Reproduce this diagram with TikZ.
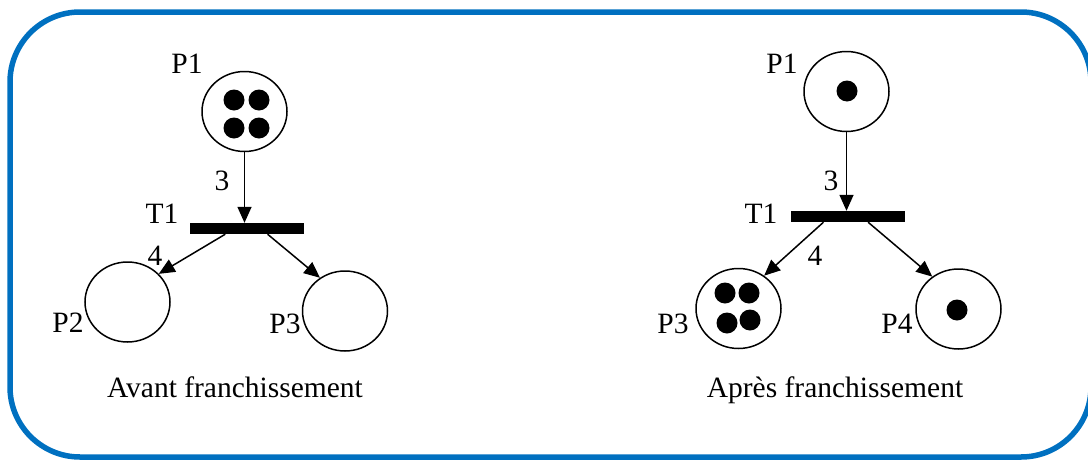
\documentclass[tikz,border=0pt]{standalone}
\usepackage{fontspec}
\setmainfont{Liberation Serif}
\usetikzlibrary{arrows.meta,shapes.geometric,calc}
\definecolor{frameblue}{RGB}{0,112,192}
\tikzset{
  place/.style={draw, ellipse, line width=1.5pt, minimum width=85pt, minimum height=80pt, inner sep=0pt},
  tokendot/.style={circle, fill=black, minimum size=21pt, inner sep=0pt},
  transbar/.style={rectangle, fill=black, minimum width=114pt, minimum height=11pt, inner sep=0pt},
  arc/.style={line width=1.5pt, -{Triangle[length=16pt,width=14pt]}},
  lbl/.style={anchor=base, inner sep=0pt, font=\fontsize{29.5}{35}\selectfont},
}
\begin{document}
\begin{tikzpicture}[x=1pt,y=-1pt]
\useasboundingbox (0,0) rectangle (1088,461);
% outer rounded frame
\draw[frameblue, line width=5.5pt, rounded corners=70pt] (10,12) rectangle (1091,457);

% ---- net before firing ----
\node[place] (p1a) at (244.5,111.5) {};
\node[tokendot] (p1a-t1) at (234,100) {};
\node[tokendot] (p1a-t2) at (259,100) {};
\node[tokendot] (p1a-t3) at (234,128) {};
\node[tokendot] (p1a-t4) at (259,128) {};
\node[transbar] (t1a) at (247,228.5) {};
\node[place] (p2a) at (127.5,302) {};
\node[place] (p3a) at (345,311) {};

\draw[arc] (p1a.south) -- (p1a.south |- t1a.north);
\draw[arc] ($(t1a.south west)!0.31!(t1a.south east)$) -- (p2a.42);
\draw[arc] ($(t1a.south west)!0.68!(t1a.south east)$) -- (p3a.127);

\node[lbl] (lp1a) at (187,73) {P1};
\node[lbl] (l3a) at (222,190) {3};
\node[lbl] (lt1a) at (162,223) {T1};
\node[lbl] (l4a) at (155,265) {4};
\node[lbl] (lp2a) at (68,332) {P2};
\node[lbl] (lp3a) at (285,333) {P3};
\node[lbl] (capa) at (235,397) {Avant franchissement};

% ---- net after firing ----
\node[place] (p1b) at (846.5,91.5) {};
\node[tokendot] (p1b-t1) at (847,91) {};
\node[transbar] (t1b) at (847.5,216.5) {};
\node[place] (p3b) at (738.5,308.5) {};
\node[tokendot] (p3b-t1) at (725,293) {};
\node[tokendot] (p3b-t2) at (749,293) {};
\node[tokendot] (p3b-t3) at (727,323) {};
\node[tokendot] (p3b-t4) at (750,320) {};
\node[place] (p4b) at (958.5,309) {};
\node[tokendot] (p4b-t1) at (957,310) {};

\draw[arc] (p1b.south) -- (p1b.south |- t1b.north);
\draw[arc] ($(t1b.south west)!0.29!(t1b.south east)$) -- (p3b.52);
\draw[arc] ($(t1b.south west)!0.68!(t1b.south east)$) -- (p4b.129);

\node[lbl] (lp1b) at (782,73) {P1};
\node[lbl] (l3b) at (831,190) {3};
\node[lbl] (lt1b) at (761,223) {T1};
\node[lbl] (l4b) at (815,265) {4};
\node[lbl] (lp3b) at (673,333) {P3};
\node[lbl] (lp4b) at (897,333) {P4};
\node[lbl] (capb) at (835,397) {Après franchissement};
\end{tikzpicture}
\end{document}
